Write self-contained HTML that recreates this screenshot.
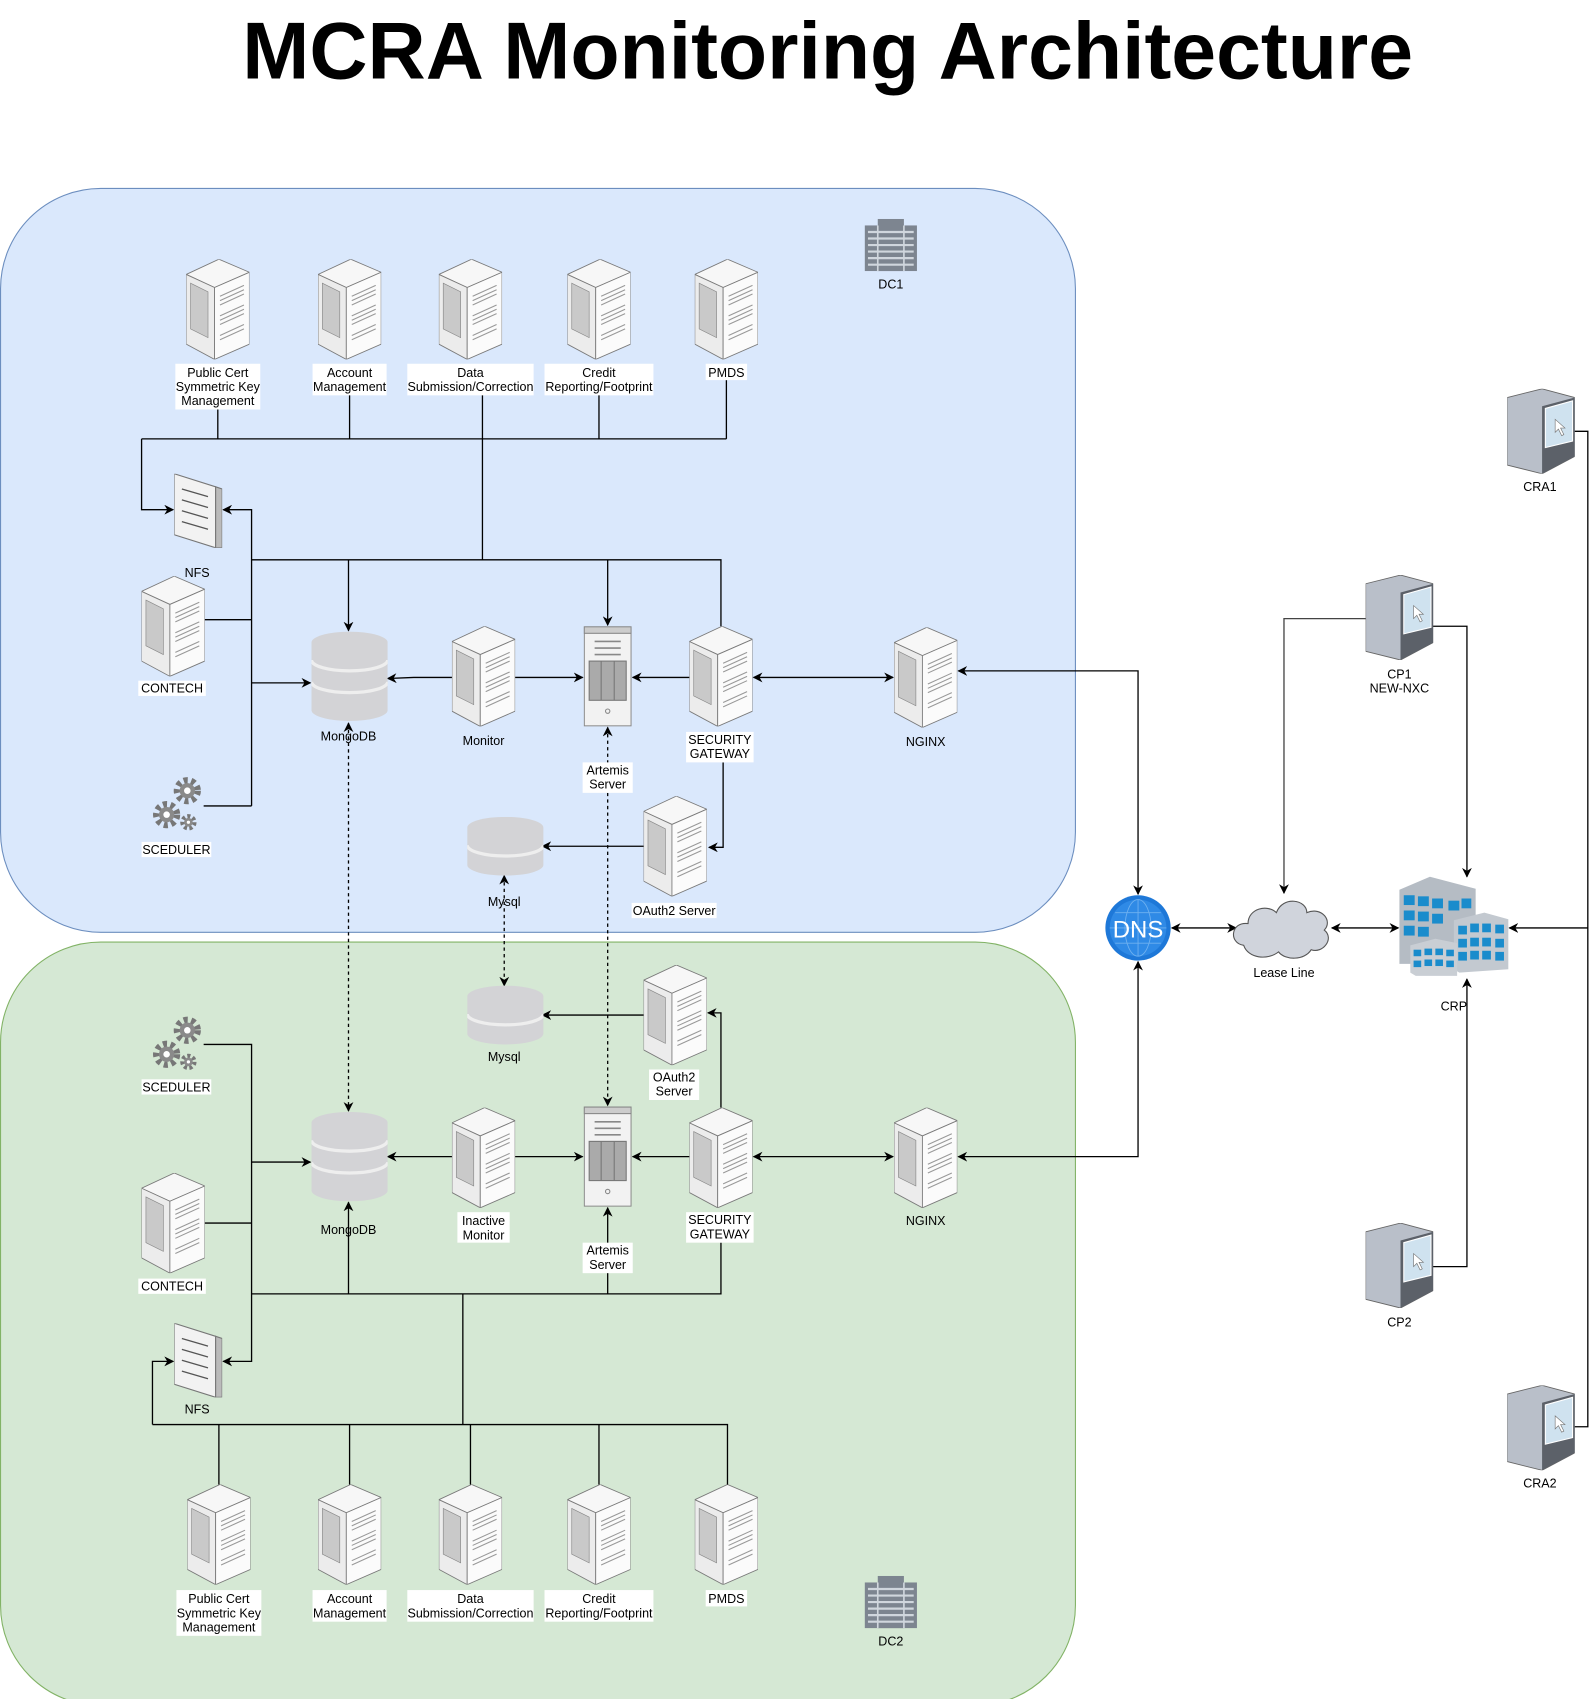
<!DOCTYPE html>
<html><head><meta charset="utf-8"><style>
html,body{margin:0;padding:0;background:#fff;}
svg{display:block;}
text{font-family:"Liberation Sans",sans-serif;font-size:11.5px;fill:#000;text-anchor:middle;}
.ln{stroke:#000;stroke-width:1.2;fill:none;}
.dl{stroke:#000;stroke-width:1.2;fill:none;stroke-dasharray:3,3;}
</style></head><body>
<svg width="1590" height="1699" viewBox="0 0 1460 1560" preserveAspectRatio="none" xmlns="http://www.w3.org/2000/svg">
<defs>
<marker id="a" viewBox="0 0 10 10" refX="9" refY="5" markerWidth="9" markerHeight="9" markerUnits="userSpaceOnUse" orient="auto-start-reverse"><path d="M0,0 L10,5 L0,10 L3,5 z" fill="#000"/></marker>
<symbol id="srv" viewBox="0 0 58 92">
<polygon points="0,14 30,0 58,12 26,26" fill="#f7f7f7" stroke="#7a7a7a" stroke-width="0.8"/>
<polygon points="0,14 26,26 26,92 0,78" fill="#ececec" stroke="#7a7a7a" stroke-width="0.8"/>
<polygon points="26,26 58,12 58,78 26,92" fill="#fbfbfb" stroke="#7a7a7a" stroke-width="0.8"/>
<polygon points="4,22 20,30 20,72 4,64" fill="#c9c9c9" stroke="#888" stroke-width="0.6"/>
<path d="M31,34 L53,24 M31,38 L53,28 M31,42 L53,32 M31,52 L53,42 M31,56 L53,46 M31,60 L53,50 M31,70 L53,60 M31,74 L53,64" stroke="#999" stroke-width="1"/>
</symbol>
<symbol id="cyl" viewBox="0 0 70 82">
<path d="M0,10 A35,10 0 0 1 70,10 L70,72 A35,10 0 0 1 0,72 Z" fill="#d3d3d6"/>
<path d="M0,26 A35,10 0 0 0 70,26 M0,46 A35,10 0 0 0 70,46" stroke="#eee" stroke-width="3" fill="none"/>
</symbol>
<symbol id="cyl2" viewBox="0 0 70 54">
<path d="M0,10 A35,10 0 0 1 70,10 L70,44 A35,10 0 0 1 0,44 Z" fill="#d3d3d6"/>
<path d="M0,26 A35,10 0 0 0 70,26" stroke="#eee" stroke-width="3" fill="none"/>
</symbol>
<symbol id="art" viewBox="0 0 44 92">
<rect x="0.5" y="0.5" width="43" height="91" fill="#f2f2f2" stroke="#888"/>
<rect x="0.5" y="0.5" width="43" height="6" fill="#ccc" stroke="#888"/>
<path d="M10,14 H34 M10,20 H34 M10,26 H34" stroke="#888" stroke-width="1.5"/>
<rect x="5" y="32" width="34" height="36" fill="#aaa" stroke="#777"/>
<path d="M16,32 V68 M28,32 V68" stroke="#777"/>
<circle cx="22" cy="78" r="2" fill="none" stroke="#888"/>
</symbol>
<symbol id="nfs" viewBox="0 0 44 68">
<polygon points="0,0 38,12 38,68 0,56" fill="#f2f2f2" stroke="#777"/>
<polygon points="38,12 44,14 44,68 38,68" fill="#bbb" stroke="#777"/>
<path d="M7,14 L31,21 M7,24 L31,31 M7,34 L31,41 M7,44 L31,51" stroke="#555" stroke-width="1.2"/>
</symbol>
<symbol id="gear" viewBox="0 0 48 58">
<circle cx="33" cy="16" r="9" fill="none" stroke="#777" stroke-width="7" stroke-dasharray="3.5,3"/>
<circle cx="33" cy="16" r="7" fill="#8a8a8a"/><circle cx="33" cy="16" r="3" fill="#fff"/>
<circle cx="14" cy="38" r="9" fill="none" stroke="#777" stroke-width="7" stroke-dasharray="3.5,3"/>
<circle cx="14" cy="38" r="7" fill="#8a8a8a"/><circle cx="14" cy="38" r="3" fill="#fff"/>
<circle cx="34" cy="45" r="5" fill="none" stroke="#777" stroke-width="5" stroke-dasharray="2.5,2"/>
<circle cx="34" cy="45" r="4" fill="#8a8a8a"/><circle cx="34" cy="45" r="1.5" fill="#fff"/>
</symbol>
<symbol id="dc" viewBox="0 0 48 48">
<rect x="0" y="6" width="48" height="42" fill="#7d8590"/>
<rect x="12" y="0" width="24" height="48" fill="#7d8590"/>
<path d="M3,12 H45 M3,18 H45 M3,24 H45 M3,30 H45 M3,36 H45 M3,42 H45" stroke="#d0d6dd" stroke-width="2"/>
<path d="M12,6 V48 M36,6 V48" stroke="#d0d6dd" stroke-width="1.5"/>
</symbol>
<symbol id="pc" viewBox="0 0 62 78">
<polygon points="0,8 32,0 62,8 62,62 32,78 0,70" fill="#b9bfc9" stroke="#666" stroke-width="0.8"/>
<polygon points="32,16 62,8 62,62 32,78" fill="#5c6169"/>
<polygon points="35,18 60,11 60,48 35,54" fill="#cfe2ef" stroke="#fff" stroke-width="1"/>
<path d="M44,28 L44,40 L47,37 L50,43 L52,42 L49,36 L53,36 Z" fill="#fff" stroke="#777" stroke-width="0.6"/>
</symbol>
</defs>

<text x="760" y="72" style="font-size:74px;font-weight:bold" textLength="1075" lengthAdjust="spacingAndGlyphs">MCRA Monitoring Architecture</text>

<rect x="0.5" y="173" width="987" height="683" rx="92" fill="#dae8fc" stroke="#6c8ebf"/>
<rect x="0.5" y="865" width="987" height="701" rx="92" fill="#d5e8d4" stroke="#82b366"/>

<!-- DC1 lines -->
<path class="ln" d="M200,375 V403 M321,362 V403 M443,362 V514 M550,362 V403 M667,349 V403 M130,403 H667"/>
<path class="ln" marker-end="url(#a)" d="M130,403 V468 H159"/>
<path class="ln" marker-end="url(#a)" d="M231,740 V468 H205"/>
<path class="ln" d="M231,514 H662 V575 M188,569 H231 M187,740 H231"/>
<path class="ln" marker-end="url(#a)" d="M320,514 V579"/>
<path class="ln" marker-end="url(#a)" d="M558,514 V574"/>
<path class="ln" marker-end="url(#a)" d="M231,627 H285"/>
<path class="ln" marker-end="url(#a)" d="M415,622 H380 L356,623"/>
<path class="ln" marker-end="url(#a)" d="M473,622 H535"/>
<path class="ln" marker-end="url(#a)" d="M633,622 H581"/>
<path class="ln" marker-start="url(#a)" marker-end="url(#a)" d="M692,622 H820"/>
<path class="ln" marker-start="url(#a)" marker-end="url(#a)" d="M880,616 H1045 V821"/>
<path class="ln" marker-end="url(#a)" d="M664,700 V778 H651"/>
<path class="ln" marker-end="url(#a)" d="M591,777 H498"/>
<!-- dotted -->
<path class="dl" marker-start="url(#a)" marker-end="url(#a)" d="M320,664 V1020"/>
<path class="dl" marker-start="url(#a)" marker-end="url(#a)" d="M558,668 V1015"/>
<path class="dl" marker-start="url(#a)" marker-end="url(#a)" d="M463,804 V905"/>

<!-- DC2 lines -->
<path class="ln" marker-end="url(#a)" d="M591,932 H498"/>
<path class="ln" marker-end="url(#a)" d="M662,1017 V930 H650"/>
<path class="ln" marker-end="url(#a)" d="M187,959 H231 V1250 H205"/>
<path class="ln" marker-end="url(#a)" d="M231,1067 H285"/>
<path class="ln" d="M188,1123 H231 M231,1188 H662 V1141 M425,1188 V1308 M140,1308 H668 V1363 M201,1308 V1363 M321,1308 V1363 M432,1308 V1363 M550,1308 V1363"/>
<path class="ln" marker-end="url(#a)" d="M140,1308 V1250 H159"/>
<path class="ln" marker-end="url(#a)" d="M320,1188 V1104"/>
<path class="ln" marker-end="url(#a)" d="M558,1188 V1109"/>
<path class="ln" marker-end="url(#a)" d="M415,1062 H356"/>
<path class="ln" marker-end="url(#a)" d="M473,1062 H535"/>
<path class="ln" marker-end="url(#a)" d="M633,1062 H581"/>
<path class="ln" marker-start="url(#a)" marker-end="url(#a)" d="M692,1062 H820"/>
<path class="ln" marker-start="url(#a)" marker-end="url(#a)" d="M880,1062 H1045 V883"/>

<!-- right side lines -->
<path class="ln" marker-start="url(#a)" marker-end="url(#a)" d="M1076,852 H1135"/>
<path class="ln" marker-start="url(#a)" marker-end="url(#a)" d="M1223,852 H1284"/>
<path class="ln" marker-end="url(#a)" d="M1458,852 H1386"/>
<path class="ln" d="M1445,396 H1458 V1310 H1445"/>
<path class="ln" marker-end="url(#a)" d="M1255,568 H1179 V820" style="stroke:#444"/>
<path class="ln" marker-end="url(#a)" d="M1315,575 H1347 V805"/>
<path class="ln" marker-end="url(#a)" d="M1315,1163 H1347 V899"/>

<!-- DC1 nodes -->
<use href="#srv" x="171" y="238" width="58" height="92"/>
<use href="#srv" x="292" y="238" width="58" height="92"/>
<use href="#srv" x="403" y="238" width="58" height="92"/>
<use href="#srv" x="521" y="238" width="58" height="92"/>
<use href="#srv" x="638" y="238" width="58" height="92"/>
<rect x="161" y="334" width="78" height="42" fill="#fff"/>
<text x="200" y="346">Public Cert</text><text x="200" y="359">Symmetric Key</text><text x="200" y="372">Management</text>
<rect x="287" y="334" width="68" height="29" fill="#fff"/>
<text x="321" y="346">Account</text><text x="321" y="359">Management</text>
<rect x="374" y="334" width="116" height="29" fill="#fff"/>
<text x="432" y="346">Data</text><text x="432" y="359">Submission/Correction</text>
<rect x="500" y="334" width="100" height="29" fill="#fff"/>
<text x="550" y="346">Credit</text><text x="550" y="359">Reporting/Footprint</text>
<rect x="648" y="334" width="38" height="15" fill="#fff"/>
<text x="667" y="346">PMDS</text>
<use href="#dc" x="794" y="201" width="48" height="48"/><text x="818" y="265">DC1</text>
<use href="#nfs" x="160" y="435" width="44" height="68"/><text x="181" y="530">NFS</text>
<use href="#srv" x="130" y="529" width="58" height="92"/>
<rect x="127" y="625" width="62" height="14" fill="#fff"/><text x="158" y="636">CONTECH</text>
<use href="#gear" x="139" y="710" width="48" height="58"/>
<rect x="130" y="773" width="64" height="14" fill="#fff"/><text x="162" y="784">SCEDULER</text>
<use href="#cyl" x="286" y="580" width="70" height="82"/><text x="320" y="680">MongoDB</text>
<use href="#srv" x="415" y="575" width="58" height="92"/><text x="444" y="684">Monitor</text>
<use href="#art" x="536" y="575" width="44" height="92"/>
<rect x="535" y="700" width="46" height="28" fill="#fff"/><text x="558" y="711">Artemis</text><text x="558" y="724">Server</text>
<use href="#srv" x="633" y="575" width="58" height="92"/>
<rect x="630" y="672" width="62" height="28" fill="#fff"/><text x="661" y="683">SECURITY</text><text x="661" y="696">GATEWAY</text>
<use href="#srv" x="821" y="576" width="58" height="92"/><text x="850" y="685">NGINX</text>
<use href="#srv" x="591" y="731" width="58" height="92"/>
<rect x="580" y="829" width="78" height="14" fill="#fff"/><text x="619" y="840">OAuth2 Server</text>
<use href="#cyl2" x="429" y="750" width="70" height="54"/><text x="463" y="832">Mysql</text>

<!-- DC2 nodes -->
<use href="#cyl2" x="429" y="905" width="70" height="54"/><text x="463" y="974">Mysql</text>
<use href="#srv" x="591" y="886" width="58" height="92"/>
<rect x="596" y="982" width="46" height="28" fill="#fff"/><text x="619" y="993">OAuth2</text><text x="619" y="1006">Server</text>
<use href="#gear" x="139" y="930" width="48" height="58"/>
<rect x="130" y="991" width="64" height="14" fill="#fff"/><text x="162" y="1002">SCEDULER</text>
<use href="#cyl" x="286" y="1021" width="70" height="82"/><text x="320" y="1133">MongoDB</text>
<use href="#srv" x="130" y="1077" width="58" height="92"/>
<rect x="127" y="1174" width="62" height="14" fill="#fff"/><text x="158" y="1185">CONTECH</text>
<use href="#srv" x="415" y="1017" width="58" height="92"/>
<rect x="420" y="1113" width="48" height="28" fill="#fff"/><text x="444" y="1125">Inactive</text><text x="444" y="1138">Monitor</text>
<use href="#art" x="536" y="1016" width="44" height="92"/>
<rect x="535" y="1141" width="46" height="28" fill="#fff"/><text x="558" y="1152">Artemis</text><text x="558" y="1165">Server</text>
<use href="#srv" x="633" y="1017" width="58" height="92"/>
<rect x="630" y="1113" width="62" height="28" fill="#fff"/><text x="661" y="1124">SECURITY</text><text x="661" y="1137">GATEWAY</text>
<use href="#srv" x="821" y="1017" width="58" height="92"/><text x="850" y="1125">NGINX</text>
<use href="#nfs" x="160" y="1215" width="44" height="68"/><text x="181" y="1298">NFS</text>
<use href="#srv" x="172" y="1363" width="58" height="92"/>
<use href="#srv" x="292" y="1363" width="58" height="92"/>
<use href="#srv" x="403" y="1363" width="58" height="92"/>
<use href="#srv" x="521" y="1363" width="58" height="92"/>
<use href="#srv" x="638" y="1363" width="58" height="92"/>
<rect x="162" y="1460" width="78" height="42" fill="#fff"/>
<text x="201" y="1472">Public Cert</text><text x="201" y="1485">Symmetric Key</text><text x="201" y="1498">Management</text>
<rect x="287" y="1460" width="68" height="29" fill="#fff"/>
<text x="321" y="1472">Account</text><text x="321" y="1485">Management</text>
<rect x="374" y="1460" width="116" height="29" fill="#fff"/>
<text x="432" y="1472">Data</text><text x="432" y="1485">Submission/Correction</text>
<rect x="500" y="1460" width="100" height="29" fill="#fff"/>
<text x="550" y="1472">Credit</text><text x="550" y="1485">Reporting/Footprint</text>
<rect x="648" y="1460" width="38" height="15" fill="#fff"/>
<text x="667" y="1472">PMDS</text>
<use href="#dc" x="794" y="1447" width="48" height="48"/><text x="818" y="1511">DC2</text>

<!-- right side nodes -->
<circle cx="1045" cy="852" r="30" fill="#1e78d8"/>
<circle cx="1045" cy="852" r="26" fill="#2f8ae6"/>
<path d="M1019,852 H1071 M1045,826 V878 M1024,838 H1066 M1024,866 H1066" stroke="#6fb1f0" stroke-width="0.8" fill="none"/>
<ellipse cx="1045" cy="852" rx="12" ry="26" stroke="#6fb1f0" stroke-width="0.8" fill="none"/>
<text x="1045" y="861" style="font-size:22px;fill:#fff">DNS</text>
<path d="M1142,868 C1128,866 1130,846 1146,848 C1146,834 1164,830 1172,838 C1178,822 1200,826 1200,838 C1214,832 1224,846 1216,854 C1226,862 1214,876 1204,872 C1198,882 1180,882 1174,874 C1164,882 1146,880 1142,868 Z" fill="#d0d4dc" stroke="#555"/>
<text x="1179" y="897">Lease Line</text>
<polygon points="1285,817 1313,805 1355,816 1355,885 1285,885" fill="#b5bcc4"/>
<g fill="#1a8ccc">
<rect x="1289" y="822" width="10" height="9"/><rect x="1302" y="823" width="10" height="9"/><rect x="1315" y="825" width="10" height="9"/><rect x="1330" y="827" width="10" height="9"/><rect x="1342" y="825" width="9" height="9"/>
<rect x="1289" y="836" width="10" height="9"/><rect x="1302" y="837" width="10" height="9"/><rect x="1315" y="839" width="10" height="9"/>
<rect x="1289" y="850" width="10" height="9"/><rect x="1302" y="851" width="10" height="9"/>
</g>
<polygon points="1335,845 1363,838 1385,844 1385,890 1340,893 1335,890" fill="#c3c9d0"/>
<g fill="#1a8ccc"><rect x="1339" y="850" width="8" height="8"/><rect x="1350" y="848" width="8" height="8"/><rect x="1361" y="848" width="8" height="8"/><rect x="1373" y="849" width="8" height="8"/>
<rect x="1339" y="862" width="8" height="8"/><rect x="1350" y="861" width="8" height="8"/><rect x="1361" y="861" width="8" height="8"/><rect x="1373" y="862" width="8" height="8"/>
<rect x="1339" y="874" width="8" height="8"/><rect x="1350" y="873" width="8" height="8"/><rect x="1361" y="873" width="8" height="8"/><rect x="1373" y="874" width="8" height="8"/></g>
<polygon points="1295,868 1318,862 1338,866 1338,896 1300,896 1295,893" fill="#c9ced4"/>
<g fill="#1a8ccc"><rect x="1298" y="872" width="7" height="6"/><rect x="1308" y="871" width="7" height="6"/><rect x="1318" y="871" width="7" height="6"/><rect x="1328" y="872" width="7" height="6"/>
<rect x="1298" y="882" width="7" height="6"/><rect x="1308" y="881" width="7" height="6"/><rect x="1318" y="881" width="7" height="6"/><rect x="1328" y="882" width="7" height="6"/></g>
<text x="1335" y="928">CRP</text>
<use href="#pc" x="1384" y="357" width="62" height="78"/><text x="1414" y="451">CRA1</text>
<use href="#pc" x="1254" y="528" width="62" height="78"/><text x="1285" y="623">CP1</text><text x="1285" y="636">NEW-NXC</text>
<use href="#pc" x="1254" y="1123" width="62" height="78"/><text x="1285" y="1218">CP2</text>
<use href="#pc" x="1384" y="1272" width="62" height="78"/><text x="1414" y="1366">CRA2</text>
</svg>
</body></html>
